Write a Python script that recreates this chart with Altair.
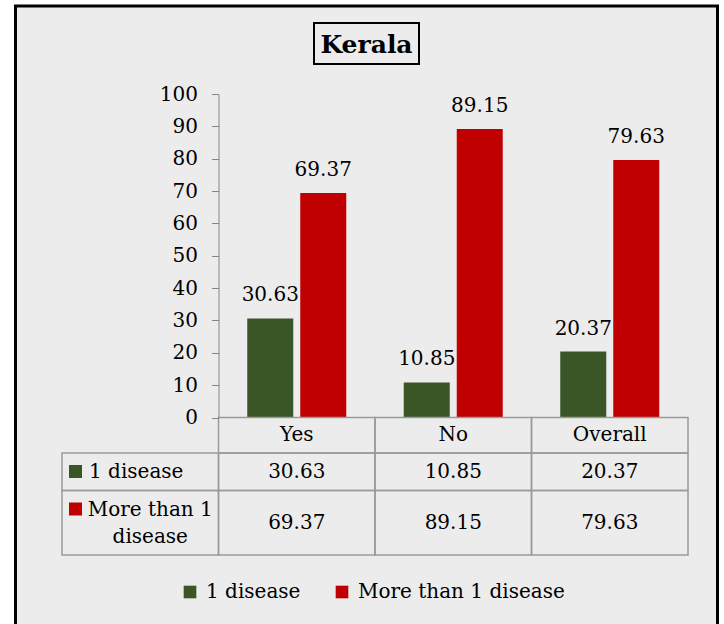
import altair as alt
import pandas as pd

# ---- data ----
categories = ["Yes", "No", "Overall"]
series_names = ["1 disease", "More than 1 disease"]
one_disease = [30.63, 10.85, 20.37]
more_than_one = [69.37, 89.15, 79.63]
row_labels = ["1 disease", "More than 1\ndisease"]
y_ticks = [0, 10, 20, 30, 40, 50, 60, 70, 80, 90, 100]
chart_title = "Kerala"

# ---- styling / layout ----
W, H = 724, 624
FONT = "DejaVu Serif"
FS = 20
COLORS = ["#3a5626", "#c00000"]
PANEL = "#ececec"
GRID = "#9a9a9a"
AXIS = "#868686"

COLS = ["key"] + categories          # first column holds the row labels of the data table
X_RANGE = [62, 688]
STEP = (X_RANGE[1] - X_RANGE[0]) / len(COLS)
AXIS_X = X_RANGE[0] + STEP           # value axis sits on the left edge of the "Yes" column
Y_RANGE = [417.5, 94]
TABLE_TOP = 417.5
ROW_H = [35.5, 37.5, 64.5]           # header row, "1 disease" row, "More than 1 disease" row
row_top = [sum(ROW_H[:i]) for i in range(len(ROW_H))]
row_bot = [sum(ROW_H[: i + 1]) for i in range(len(ROW_H))]
TABLE_H = row_bot[-1]

# ---- tables built from the arrays ----
values = {series_names[0]: one_disease, series_names[1]: more_than_one}
bars_df = pd.DataFrame(
    [{"category": c, "series": s, "value": values[s][i]}
     for s in series_names for i, c in enumerate(categories)]
)

cells = []
for c in categories:
    cells.append({"col": c, "y0": row_top[0], "y1": row_bot[0]})
for r in (1, 2):
    for c in COLS:
        cells.append({"col": c, "y0": row_top[r], "y1": row_bot[r]})
cells_df = pd.DataFrame(cells)

header_df = pd.DataFrame({"col": categories, "yc": [(row_top[0] + row_bot[0]) / 2] * 3})

table_vals_df = pd.DataFrame(
    [{"col": c, "series": s, "value": values[s][i],
      "yc": (row_top[r + 1] + row_bot[r + 1]) / 2}
     for r, s in enumerate(series_names) for i, c in enumerate(categories)]
)

# key square and first text line sit near the top of each row
labels_df = pd.DataFrame(
    [{"col": "key", "series": s, "text": row_labels[r],
      "yfirst": row_top[r + 1] + 19.0,
      "ysq": row_top[r + 1] + 18.5}
     for r, s in enumerate(series_names)]
)

one = pd.DataFrame({"k": [0]})

# ---- scales ----
x_scale = alt.Scale(domain=COLS, range=X_RANGE, paddingInner=0, paddingOuter=0)
xoff_scale = alt.Scale(domain=series_names, paddingInner=0.132, paddingOuter=0.5425)
val_scale = alt.Scale(domain=[0, 100], range=Y_RANGE, nice=False, zero=True)
tab_scale = alt.Scale(domain=[0, TABLE_H], range=[TABLE_TOP, TABLE_TOP + TABLE_H], nice=False, zero=False)

color_enc = alt.Color(
    "series:N",
    scale=alt.Scale(domain=series_names, range=COLORS),
    legend=alt.Legend(
        title=None, orient="none", legendX=180, legendY=582, direction="horizontal",
        symbolType="square", symbolSize=160, symbolStrokeWidth=0,
        labelFont=FONT, labelFontSize=FS, labelColor="black", labelOffset=6,
        labelLimit=400, columnPadding=31, padding=0, zindex=2,
    ),
)
x_enc = alt.X("col:N", scale=x_scale, axis=None)

# ---- chart frame and boxed title ----
frame = alt.Chart(one).mark_rect(fill=PANEL, stroke="black", strokeWidth=3).encode(
    x=alt.value(15.5), x2=alt.value(717.5), y=alt.value(6), y2=alt.value(660)
)
title_box = alt.Chart(one).mark_rect(fillOpacity=0, stroke="black", strokeWidth=2).encode(
    x=alt.value(314), x2=alt.value(419), y=alt.value(23), y2=alt.value(64)
)
title = alt.Chart(one).mark_text(
    text=chart_title, font=FONT, fontSize=25, fontWeight="bold", color="black",
    align="center", baseline="middle"
).encode(x=alt.value(366.5), y=alt.value(44.5))

# ---- clustered bars ----
bars = alt.Chart(bars_df).mark_bar().encode(
    x=alt.X("category:N", scale=x_scale, axis=None),
    xOffset=alt.XOffset("series:N", scale=xoff_scale),
    y=alt.Y(
        "value:Q", scale=val_scale,
        axis=alt.Axis(
            values=y_ticks, offset=-AXIS_X, title=None, grid=False, zindex=2,
            domainColor=AXIS, tickColor=AXIS, tickSize=7, labelPadding=14,
            labelFont=FONT, labelFontSize=FS, labelColor="black",
        ),
    ),
    color=color_enc,
)
bar_labels = alt.Chart(bars_df).mark_text(
    font=FONT, fontSize=FS, color="black", baseline="middle", dy=-23
).encode(
    x=alt.X("category:N", scale=x_scale, axis=None),
    xOffset=alt.XOffset("series:N", scale=xoff_scale),
    y=alt.Y("value:Q", scale=val_scale, axis=None),
    text=alt.Text("value:Q", format=".2f"),
)

# ---- data table under the plot ----
grid = alt.Chart(cells_df).mark_rect(fillOpacity=0, stroke=GRID, strokeWidth=1.5).encode(
    x=x_enc,
    y=alt.Y("y0:Q", scale=tab_scale, axis=None),
    y2="y1:Q",
)
header = alt.Chart(header_df).mark_text(font=FONT, fontSize=FS, color="black", baseline="middle").encode(
    x=x_enc, y=alt.Y("yc:Q", scale=tab_scale, axis=None), text="col:N"
)
table_vals = alt.Chart(table_vals_df).mark_text(font=FONT, fontSize=FS, color="black", baseline="middle").encode(
    x=x_enc, y=alt.Y("yc:Q", scale=tab_scale, axis=None),
    text=alt.Text("value:Q", format=".2f"),
)
keys = alt.Chart(labels_df).mark_square(size=169, opacity=1, xOffset=-(STEP / 2 - 13.5)).encode(
    x=x_enc, y=alt.Y("ysq:Q", scale=tab_scale, axis=None), color=color_enc
)
label_one = alt.Chart(labels_df).transform_filter(
    alt.datum.series == series_names[0]
).mark_text(font=FONT, fontSize=FS, color="black", align="left", baseline="middle",
            dx=-(STEP / 2 - 27)).encode(
    x=x_enc, y=alt.Y("yfirst:Q", scale=tab_scale, axis=None), text="text:N"
)
label_two = alt.Chart(labels_df).transform_filter(
    alt.datum.series == series_names[1]
).mark_text(font=FONT, fontSize=FS, color="black", align="center", baseline="middle",
            lineBreak="\n", lineHeight=27, dx=10).encode(
    x=x_enc, y=alt.Y("yfirst:Q", scale=tab_scale, axis=None), text="text:N"
)

chart = alt.layer(
    frame, title_box, title, bars, bar_labels, grid, header, table_vals, keys, label_one, label_two
).resolve_scale(y="independent").properties(
    width=W, height=H, padding=0, background="white",
    autosize=alt.AutoSizeParams(type="none"),
).configure_view(strokeWidth=0)

chart.save("out.html", embed_options={"renderer": "svg", "actions": False})
